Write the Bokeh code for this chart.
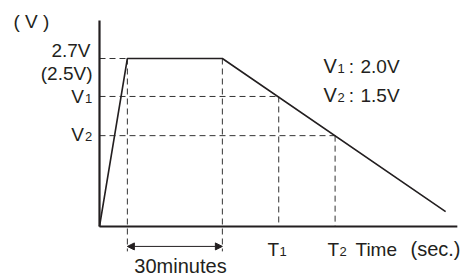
from bokeh.plotting import figure
from bokeh.models import Range1d, Arrow, NormalHead
from bokeh.core.properties import value
from bokeh.embed import file_html
from bokeh.resources import INLINE

# ---- schematic data (time in minutes, voltage in volts, as drawn) ----
time_min = [0, 8.8, 38.8, 109.3]
volts = [0, 2.7, 2.7, 0.24]
v_top = 2.7
v1_level = 2.09
v2_level = 1.46
t1 = 56.6
t2 = 74.4
t_charge_start = 8.8
t_charge_end = 38.8
guide_bottom = -0.40
arrow_level = -0.32
axis_x_end = 113.0
axis_y_end = 3.31

W, H = 474, 278
PXM = 95 / 30.0      # px per minute
PXV = 168 / 2.7      # px per volt
OX, OY = 99, 226     # pixel position of the origin

INK = "#231f20"
FONT = value("Liberation Sans")

p = figure(width=W, height=H, output_backend="svg", toolbar_location=None,
           x_range=Range1d(-OX / PXM, (W - OX) / PXM),
           y_range=Range1d(-(H - OY) / PXV, OY / PXV),
           min_border=0, x_axis_location=None, y_axis_location=None)
p.grid.visible = False
p.outline_line_color = None
p.background_fill_color = "white"
p.border_fill_color = "white"

# dashed guides
dash_xs = [[0, t_charge_start], [0, t1], [0, t2],
           [t_charge_start, t_charge_start], [t_charge_end, t_charge_end],
           [t1, t1], [t2, t2]]
dash_ys = [[v_top, v_top], [v1_level, v1_level], [v2_level, v2_level],
           [v_top, guide_bottom], [v_top, guide_bottom],
           [v1_level, 0], [v2_level, 0]]
p.multi_line(xs=dash_xs, ys=dash_ys, line_color="#333333", line_width=1,
             line_dash="6 4")

# axes
p.line(x=[0, 0], y=[0, axis_y_end], line_color=INK, line_width=2.2)
p.line(x=[0, axis_x_end], y=[0, 0], line_color=INK, line_width=2.2)

# voltage curve
p.line(x=time_min, y=volts, line_color=INK, line_width=1.6)

# 30 minutes arrow
p.add_layout(Arrow(start=NormalHead(size=7, fill_color=INK, line_color=INK),
                   end=NormalHead(size=7, fill_color=INK, line_color=INK),
                   x_start=t_charge_start, y_start=arrow_level,
                   x_end=t_charge_end, y_end=arrow_level,
                   line_color=INK, line_width=1))


def lbl(text, X, base, align="left", size=19):
    yc = base - 0.358 * size
    p.text(x=[(X - OX) / PXM], y=[(OY - yc) / PXV], text=[text],
           text_font=FONT, text_font_size=f"{size}px", text_color=INK,
           text_align=align, text_baseline="middle")


SUB = 13
lbl("( V )", 13, 28)
lbl("2.7V", 90, 57, "right")
lbl("(2.5V)", 92, 80, "right")
lbl("V", 83.5, 102.5, "right")
lbl("1", 84.5, 102.5, "left", SUB)
lbl("V", 83.5, 140.5, "right")
lbl("2", 84.5, 140.5, "left", SUB)
lbl("30minutes", 180, 273, "center", 20)
lbl("T", 267, 255.5)
lbl("1", 279, 255.5, "left", SUB)
lbl("T", 327, 255.5)
lbl("2", 339, 255.5, "left", SUB)
lbl("Time", 355, 255.5)
lbl("(sec.)", 410, 255.5, "left", 20)
lbl("V", 323, 72.5, "left", 20)
lbl("1", 337, 72.5, "left", SUB)
lbl(":", 351, 72.5, "center")
lbl("2.0V", 360, 72.5)
lbl("V", 323, 102, "left", 20)
lbl("2", 337, 102, "left", SUB)
lbl(":", 351, 102, "center")
lbl("1.5V", 360, 102)

open("out.html", "w").write(file_html(p, INLINE))
